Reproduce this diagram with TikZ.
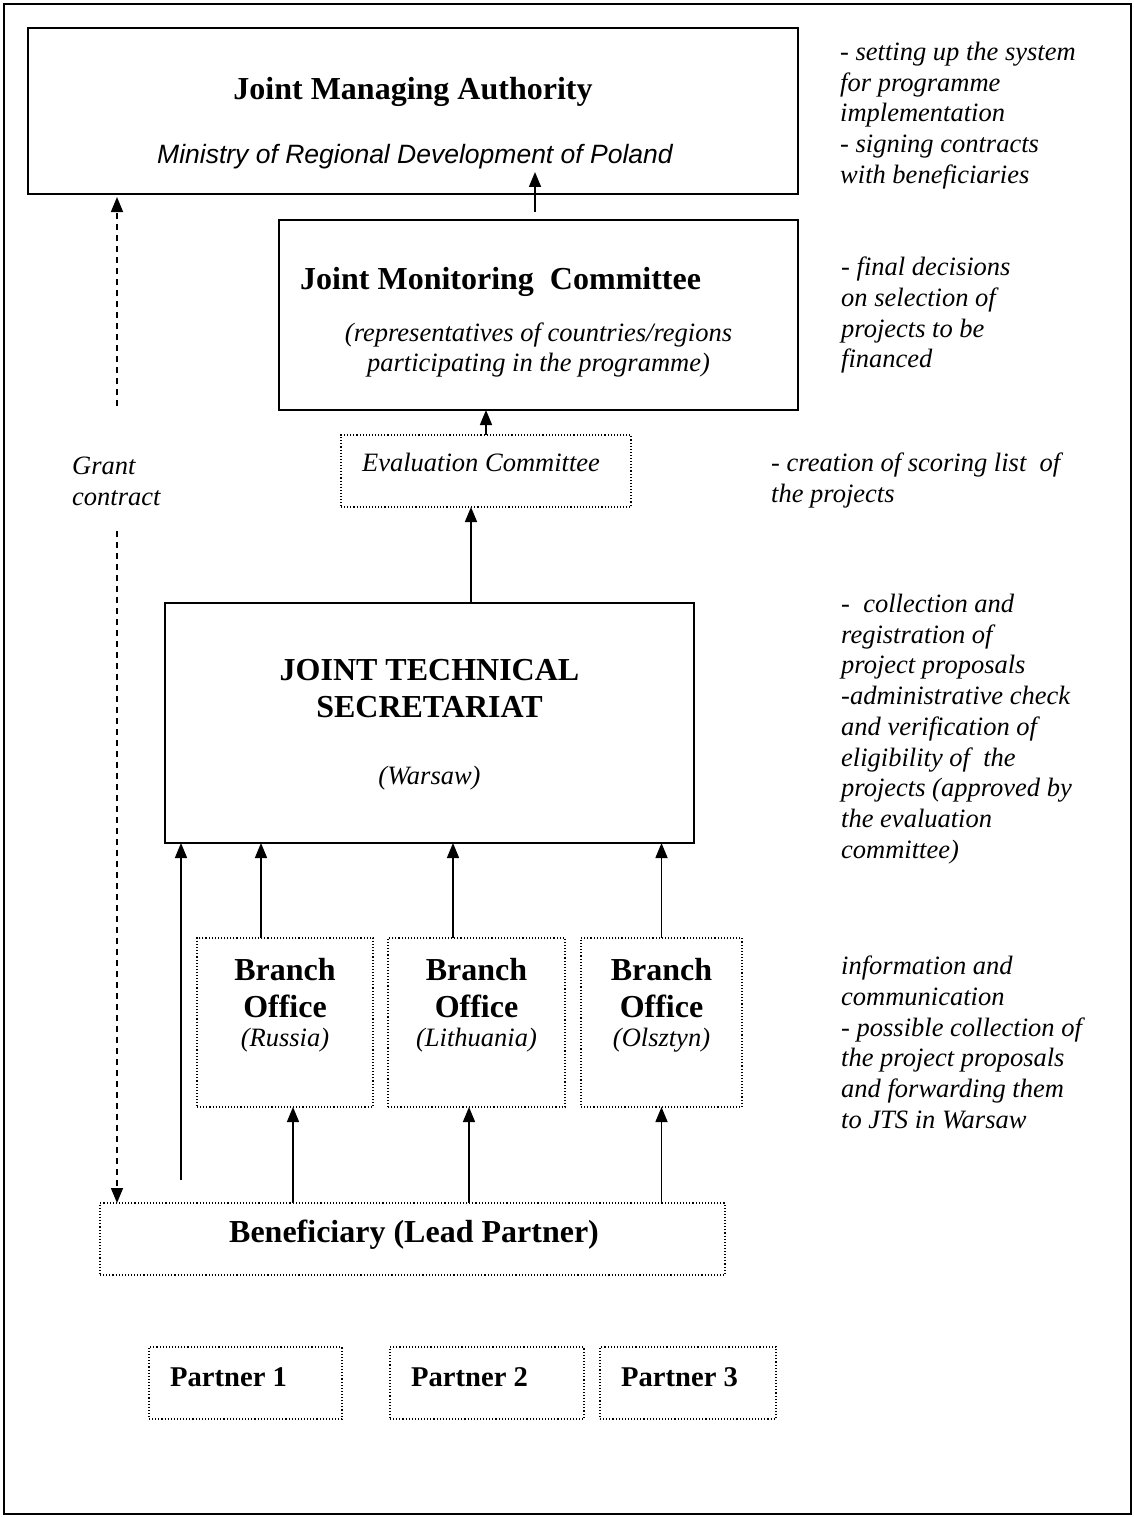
\documentclass[tikz,border=0pt]{standalone}
\usepackage{fontspec}
\setmainfont{Liberation Serif}
\setsansfont{Liberation Sans}
\usepackage{tikz}
\usetikzlibrary{arrows.meta, positioning}
\newcommand{\titlefont}{\fontsize{32}{37}\selectfont\bfseries}
\newcommand{\notefont}{\fontsize{26.5}{30.7}\selectfont\itshape}
\newcommand{\partnerfont}{\fontsize{28.6}{33}\selectfont\bfseries}
\newcommand{\ministryfont}{\fontsize{26.5}{30.7}\selectfont\sffamily\itshape}
\tikzstyle{solidbox} = [rectangle, draw=black, line width=2pt, inner sep=0pt, outer sep=0pt]
\tikzstyle{dotbox} = [rectangle, draw=black, line width=1.1pt, dotted, inner sep=0pt, outer sep=0pt]
\tikzstyle{boxtitle} = [inner sep=0pt, align=center, font=\titlefont]
\tikzstyle{boxnote} = [inner sep=0pt, align=center, font=\notefont]
\tikzstyle{sidenote} = [inner sep=0pt, align=left, font=\notefont]
\tikzstyle{arrow} = [line width=1.6pt, -{Triangle[width=12pt,length=15pt]}]
\tikzstyle{grantarrow} = [arrow, dash pattern=on 6pt off 5pt]

\begin{document}
\begin{tikzpicture}[x=1pt, y=1pt]
  \useasboundingbox (0,0) rectangle (1133,-1517);
  \draw [line width=1.5pt] (4,-4) rectangle (1131,-1514);

  % boxes
  \node (jma) [solidbox, minimum width=770pt, minimum height=166pt, anchor=north west] at (28,-28) {};
  \node (jmc) [solidbox, minimum width=519pt, minimum height=190pt, below=26pt of jma.south east, anchor=north east] {};
  \node (eval) [dotbox, minimum width=290pt, minimum height=72pt, below=25pt of jmc.south west, anchor=north west, xshift=62pt] {};
  \node (jts) [solidbox, minimum width=529pt, minimum height=240pt, below=96pt of eval.south west, anchor=north west, xshift=-176pt] {};
  \node (bro1) [dotbox, minimum width=176pt, minimum height=169pt, below=95pt of jts.south west, anchor=north west, xshift=32pt] {};
  \node (bro2) [dotbox, minimum width=177pt, minimum height=169pt, right=15pt of bro1] {};
  \node (bro3) [dotbox, minimum width=161pt, minimum height=169pt, right=16pt of bro2] {};
  \node (benef) [dotbox, minimum width=625pt, minimum height=72pt, below=96pt of bro1.south west, anchor=north west, xshift=-97pt] {};
  \node (p1) [dotbox, minimum width=193pt, minimum height=72pt, below=72pt of benef.south west, anchor=north west, xshift=49pt] {};
  \node (p2) [dotbox, minimum width=194pt, minimum height=72pt, right=48pt of p1] {};
  \node (p3) [dotbox, minimum width=176pt, minimum height=72pt, right=16pt of p2] {};

  % texts in the boxes
  \node (jmaname) [boxtitle] at ([yshift=-64pt]jma.north) {Joint Managing Authority};
  \node (jmaorg) [boxnote, font=\ministryfont] at ([xshift=2pt,yshift=-129pt]jma.north) {Ministry of Regional Development of Poland};
  \node (jmcname) [boxtitle, anchor=west] at ([xshift=21pt,yshift=-62pt]jmc.north west) {Joint Monitoring\ \ Committee};
  \node (jmcnote) [boxnote] at ([yshift=-130pt]jmc.north) {(representatives of countries/regions\\participating in the programme)};
  \node (evalname) [boxnote] at ([xshift=-5pt,yshift=-27pt]eval.north) {Evaluation Committee};
  \node (jtsname) [boxtitle] at ([yshift=-85.5pt]jts.north) {JOINT TECHNICAL\\SECRETARIAT};
  \node (jtsplace) [boxnote] at ([yshift=-175pt]jts.north) {(Warsaw)};
  \node (bro1name) [boxtitle] at ([yshift=-50.5pt]bro1.north) {Branch\\Office};
  \node (bro1place) [boxnote] at ([yshift=-102pt]bro1.north) {(Russia)};
  \node (bro2name) [boxtitle] at ([yshift=-50.5pt]bro2.north) {Branch\\Office};
  \node (bro2place) [boxnote] at ([yshift=-102pt]bro2.north) {(Lithuania)};
  \node (bro3name) [boxtitle] at ([yshift=-50.5pt]bro3.north) {Branch\\Office};
  \node (bro3place) [boxnote] at ([yshift=-102pt]bro3.north) {(Olsztyn)};
  \node (benefname) [boxtitle] at ([xshift=1.5pt,yshift=-32pt]benef.north) {Beneficiary (Lead Partner)};
  \node (p1name) [boxtitle, font=\partnerfont, anchor=west] at ([xshift=21pt,yshift=-30pt]p1.north west) {Partner 1};
  \node (p2name) [boxtitle, font=\partnerfont, anchor=west] at ([xshift=21pt,yshift=-30pt]p2.north west) {Partner 2};
  \node (p3name) [boxtitle, font=\partnerfont, anchor=west] at ([xshift=21pt,yshift=-30pt]p3.north west) {Partner 3};

  % tasks on the right
  \node (jmatasks) [sidenote, right=42pt of jma.north east, anchor=north west, yshift=-14pt] {- setting up the system\\for programme\\implementation\\- signing contracts\\with beneficiaries};
  \node (jmctasks) [sidenote, right=43pt of jmc.north east, anchor=north west, yshift=-37pt] {- final decisions\\on selection of\\projects to be\\financed};
  \node (evaltasks) [sidenote, right=140pt of eval.north east, anchor=north west, yshift=-18pt] {- creation of scoring list\ \ of\\the projects};
  \node (jtstasks) [sidenote, right=147pt of jts.north east, anchor=north west, yshift=9pt] {-\ \ collection and\\registration of\\project proposals\\-administrative check\\and verification of\\eligibility of\ \ the\\projects (approved by\\the evaluation\\committee)};
  \node (brotasks) [sidenote, right=99pt of bro3.north east, anchor=north west, yshift=-18pt] {information and\\communication\\- possible collection of\\the project proposals\\and forwarding them\\to JTS in Warsaw};

  \node (grant) [sidenote, below=263pt of jma.south west, anchor=north west, xshift=44pt] {Grant\\contract};
  \coordinate (grantup) at ([xshift=45pt,yshift=51pt]grant.north west);
  \coordinate (grantdown) at ([xshift=45pt,yshift=-25pt]grant.south west);

  \draw [arrow] ([xshift=-3.5pt,yshift=8pt]jmc.north) -- ([xshift=-3.5pt,yshift=22pt]jmc.north |- jma.south);
  \draw [arrow] (eval.north) -- (eval.north |- jmc.south);
  \draw [arrow] ([xshift=-15pt]eval.south |- jts.north) -- ([xshift=-15pt]eval.south);
  \draw [arrow] ([xshift=-24pt]bro1.north) -- ([xshift=-24pt]bro1.north |- jts.south);
  \draw [arrow] ([xshift=-23.5pt]bro2.north) -- ([xshift=-23.5pt]bro2.north |- jts.south);
  \draw [arrow] (bro3.north) -- (bro3.north |- jts.south);
  \draw [arrow] ([xshift=8pt]bro1.south |- benef.north) -- ([xshift=8pt]bro1.south);
  \draw [arrow] ([xshift=-7.5pt]bro2.south |- benef.north) -- ([xshift=-7.5pt]bro2.south);
  \draw [arrow] (bro3.south |- benef.north) -- (bro3.south);
  \draw [arrow] ([xshift=16pt,yshift=23pt]jts.south west |- benef.north) -- ([xshift=16pt]jts.south west);
  \draw [grantarrow, shorten >=3pt] (grantup) -- (grantup |- jma.south);
  \draw [grantarrow] (grantdown) -- (grantdown |- benef.north);

\end{tikzpicture}
\end{document}
